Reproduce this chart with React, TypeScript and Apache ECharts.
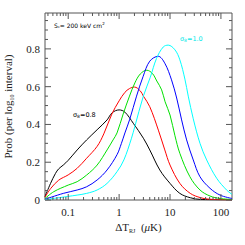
import React, { useEffect, useRef } from "react";
import * as echarts from "echarts";

const XMIN = 0.035;
const XMAX = 165;
const YMIN = 0;
const YMAX = 0.99;

const sigma08 = [[0.035,0.018],[0.045,0.088],[0.056,0.14],[0.065,0.165],[0.08,0.185],[0.1,0.21],[0.15,0.265],[0.23,0.318],[0.37,0.372],[0.58,0.424],[0.73,0.462],[1.0,0.477],[1.3,0.465],[1.9,0.406],[3.0,0.327],[4.0,0.265],[6.3,0.159],[10,0.088],[15.6,0.035],[25,0.012],[40,0.003],[165,0.0005]];
const sigma085 = [[0.035,0.015],[0.045,0.06],[0.065,0.105],[0.1,0.133],[0.15,0.168],[0.23,0.221],[0.37,0.284],[0.5,0.35],[0.72,0.455],[1.0,0.525],[1.3,0.57],[1.6,0.59],[2.0,0.598],[2.6,0.578],[3.0,0.55],[4.0,0.494],[5.9,0.37],[7.9,0.265],[10,0.185],[15.6,0.088],[25,0.035],[40,0.012],[60,0.004],[165,0.0008]];
const sigma09 = [[0.035,0.008],[0.052,0.044],[0.1,0.079],[0.15,0.097],[0.23,0.132],[0.37,0.185],[0.58,0.265],[0.76,0.318],[0.91,0.355],[1.2,0.455],[1.6,0.55],[2.04,0.62],[2.6,0.667],[3.5,0.687],[4.5,0.67],[5.5,0.63],[6.84,0.583],[8,0.52],[10,0.45],[12.5,0.34],[15.6,0.247],[24.6,0.123],[38.8,0.053],[61,0.021],[96,0.008],[165,0.003]];
const sigma095 = [[0.035,0.004],[0.08,0.035],[0.15,0.053],[0.23,0.07],[0.37,0.106],[0.58,0.159],[0.91,0.24],[1.11,0.3],[1.3,0.355],[1.62,0.428],[2.2,0.55],[2.97,0.655],[4.0,0.735],[5.86,0.761],[7.9,0.724],[10.7,0.636],[13.5,0.54],[16.9,0.424],[21.2,0.318],[28.6,0.212],[38.8,0.123],[61,0.062],[96,0.026],[165,0.008]];
const sigma10 = [[0.035,0.002],[0.15,0.026],[0.23,0.035],[0.37,0.053],[0.58,0.088],[0.91,0.15],[1.24,0.212],[1.75,0.327],[2.04,0.39],[2.97,0.547],[4.1,0.65],[5.44,0.75],[7.35,0.81],[9.2,0.82],[12.5,0.795],[15.6,0.742],[19.6,0.64],[22.8,0.55],[28.6,0.43],[38.8,0.3],[52.5,0.212],[82.6,0.115],[129,0.053],[165,0.03]];

const seriesList = [
  { name: "σ8=0.8", data: sigma08, color: "#000000" },
  { name: "σ8=0.85", data: sigma085, color: "#ff0000" },
  { name: "σ8=0.9", data: sigma09, color: "#00e000" },
  { name: "σ8=0.95", data: sigma095, color: "#0000ff" },
  { name: "σ8=1.0", data: sigma10, color: "#00ffff" },
];

// axis tick positions (value, major?)
const xTicks: number[][] = [];
[0.01, 0.1, 1, 10, 100].forEach((d) => {
  for (let k = 1; k <= 9; k++) {
    const v = d * k;
    if (v >= XMIN && v <= XMAX) xTicks.push([v, k === 1 ? 1 : 0]);
  }
});
const yTicks: number[][] = [];
for (let i = 0; i <= 19; i++) {
  const v = i * 0.05;
  yTicks.push([XMIN, v, i % 4 === 0 ? 1 : 0]);
}

const FRAME = "#555555";
const SERIF = "'Liberation Serif', 'Times New Roman', serif";

export default function App() {
  const ref = useRef<HTMLDivElement>(null);
  useEffect(() => {
    if (!ref.current) return;
    const chart = echarts.init(ref.current, undefined, { renderer: "svg" });
    const option: any = {
      animation: false,
      backgroundColor: "#ffffff",
      grid: {
        left: 45, right: 13, top: 13, bottom: 45,
        show: true, borderColor: FRAME, borderWidth: 1,
        outerBoundsMode: "none",
      },
      xAxis: {
        type: "log",
        min: XMIN,
        max: XMAX,
        logBase: 10,
        axisLine: { show: false },
        axisTick: { show: false },
        splitLine: { show: false },
        minorTick: { show: false },
        axisLabel: {
          show: true,
          showMinLabel: false,
          showMaxLabel: false,
          color: "#222",
          fontFamily: SERIF,
          fontSize: 11,
          margin: 6,
          formatter: (v: number) => {
            const l = Math.log10(v);
            return Math.abs(l - Math.round(l)) < 1e-6 ? String(+v.toPrecision(3)) : "";
          },
        },
        name: "{a|ΔT}{s|RJ}{a|  (}{i|μ}{a|K)}",
        nameLocation: "middle",
        nameGap: 13,
        nameTextStyle: {
          color: "#222",
          fontFamily: SERIF,
          fontSize: 11,
          rich: {
            a: { fontFamily: SERIF, fontSize: 11, color: "#222", lineHeight: 14 },
            i: { fontFamily: SERIF, fontSize: 11, color: "#222", fontStyle: "italic", lineHeight: 14 },
            s: { fontFamily: SERIF, fontSize: 6, color: "#222", verticalAlign: "bottom", lineHeight: 14 },
          },
        },
      },
      yAxis: {
        type: "value",
        min: YMIN,
        max: YMAX,
        interval: 0.2,
        axisLine: { show: false },
        axisTick: { show: false },
        splitLine: { show: false },
        axisLabel: {
          showMaxLabel: false,
          color: "#222",
          fontFamily: SERIF,
          fontSize: 11,
          margin: 5,
          formatter: (v: number) => {
            const r = Math.round(v / 0.2);
            if (Math.abs(v / 0.2 - r) > 1e-6) return "";
            return v === 0 ? "0" : v.toFixed(1);
          },
        },
        name: "{a|Prob (per log}{s|10}{a| interval)}",
        nameLocation: "middle",
        nameRotate: 90,
        nameGap: 24,
        nameTextStyle: {
          color: "#222",
          fontFamily: SERIF,
          fontSize: 11,
          rich: {
            a: { fontFamily: SERIF, fontSize: 11, color: "#222", lineHeight: 14 },
            s: { fontFamily: SERIF, fontSize: 6, color: "#222", verticalAlign: "bottom", lineHeight: 14 },
          },
        },
      },
      graphic: [
        {
          type: "text",
          left: 54,
          top: 21,
          style: {
            text: "{a|S}{s|*}{a|= 200 keV cm}{p|2}",
            rich: {
              a: { fontFamily: "'DejaVu Sans', sans-serif", fontSize: 6, fill: "#000", lineHeight: 8 },
              s: { fontFamily: "'DejaVu Sans', sans-serif", fontSize: 4, fill: "#000", verticalAlign: "bottom", lineHeight: 8 },
              p: { fontFamily: "'DejaVu Sans', sans-serif", fontSize: 4, fill: "#000", verticalAlign: "top", lineHeight: 8 },
            },
          },
        },
        {
          type: "text",
          left: 73,
          top: 111,
          style: {
            text: "{a|σ}{s|8}{a|=0.8}",
            rich: {
              a: { fontFamily: "'DejaVu Sans', sans-serif", fontSize: 6.5, fill: "#000", lineHeight: 9 },
              s: { fontFamily: "'DejaVu Sans', sans-serif", fontSize: 4.5, fill: "#000", verticalAlign: "bottom", lineHeight: 9 },
            },
          },
        },
        {
          type: "text",
          left: 180,
          top: 35,
          style: {
            text: "{a|σ}{s|8}{a|=1.0}",
            rich: {
              a: { fontFamily: "'DejaVu Sans', sans-serif", fontSize: 6.5, fill: "#00e8e8", lineHeight: 9 },
              s: { fontFamily: "'DejaVu Sans', sans-serif", fontSize: 4.5, fill: "#00e8e8", verticalAlign: "bottom", lineHeight: 9 },
            },
          },
        },
      ],
      series: [
        ...seriesList.map((s) => ({
          type: "line",
          name: s.name,
          data: s.data,
          showSymbol: false,
          symbol: "none",
          smooth: 0.35,
          clip: true,
          lineStyle: { color: s.color, width: 1 },
          itemStyle: { color: s.color },
          z: 3,
        })),
        {
          type: "custom",
          name: "xticks",
          data: xTicks,
          clip: false,
          z: 5,
          silent: true,
          renderItem: (params: any, api: any) => {
            const v = api.value(0);
            const major = api.value(1) === 1;
            const len = major ? 6 : 3;
            const pb = api.coord([v, YMIN]);
            const pt = api.coord([v, YMAX]);
            return {
              type: "group",
              children: [
                { type: "line", shape: { x1: pb[0], y1: pb[1], x2: pb[0], y2: pb[1] - len }, style: { stroke: FRAME, lineWidth: 1 } },
                { type: "line", shape: { x1: pt[0], y1: pt[1], x2: pt[0], y2: pt[1] + len }, style: { stroke: FRAME, lineWidth: 1 } },
              ],
            };
          },
        },
        {
          type: "custom",
          name: "yticks",
          data: yTicks,
          clip: false,
          z: 5,
          silent: true,
          renderItem: (params: any, api: any) => {
            const v = api.value(1);
            const major = api.value(2) === 1;
            const len = major ? 6 : 3;
            const pl = api.coord([XMIN, v]);
            const pr = api.coord([XMAX, v]);
            return {
              type: "group",
              children: [
                { type: "line", shape: { x1: pl[0], y1: pl[1], x2: pl[0] + len, y2: pl[1] }, style: { stroke: FRAME, lineWidth: 1 } },
                { type: "line", shape: { x1: pr[0], y1: pr[1], x2: pr[0] - len, y2: pr[1] }, style: { stroke: FRAME, lineWidth: 1 } },
              ],
            };
          },
        },
      ],
    };
    chart.setOption(option);
    return () => chart.dispose();
  }, []);
  return <div ref={ref} style={{ width: 245, height: 245, position: "absolute", left: 0, top: 0 }} />;
}
